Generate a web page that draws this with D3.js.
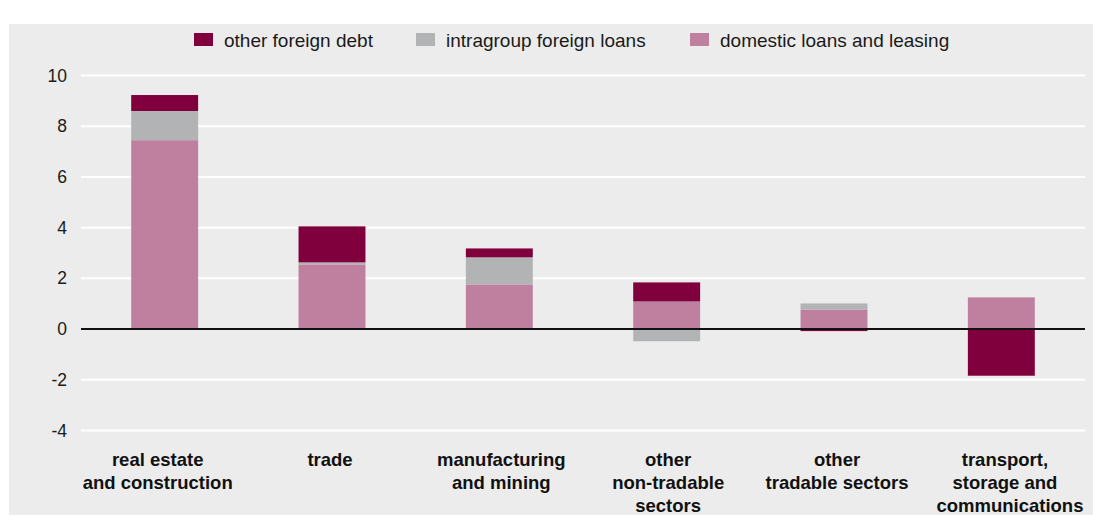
<!DOCTYPE html>
<html>
<head>
<meta charset="utf-8">
<script src="https://cdn.jsdelivr.net/npm/d3@7"></script>
<style>
  html, body { margin: 0; padding: 0; background: #ffffff; }
  svg { display: block; font-family: "Liberation Sans", Arial, sans-serif; }
</style>
</head>
<body>
<svg id="chart" width="1093" height="517"></svg>
<script>
// Sectors shown along the horizontal axis (line breaks as drawn)
const categories = [
  ["real estate", "and construction"],
  ["trade"],
  ["manufacturing", "and mining"],
  ["other", "non-tradable", "sectors"],
  ["other", "tradable sectors"],
  ["transport,", "storage and", "communications"]
];

// Contributions by funding source
const domesticLoans   = [7.45, 2.55, 1.76, 1.09, 0.77, 1.25];
const intragroupLoans = [1.15, 0.08, 1.07, -0.48, 0.24, 0.00];
const otherForeign    = [0.63, 1.42, 0.35, 0.75, -0.08, -1.84];

const seriesNames  = ["domestic loans and leasing", "intragroup foreign loans", "other foreign debt"];
const legendOrder  = ["other foreign debt", "intragroup foreign loans", "domestic loans and leasing"];
const yTicks = [-4, -2, 0, 2, 4, 6, 8, 10];

const colors = {
  "other foreign debt": "#7f003c",
  "intragroup foreign loans": "#b2b3b5",
  "domestic loans and leasing": "#be809e"
};

const width = 1093, height = 517;
const svg = d3.select("#chart");

// panel background
svg.append("rect")
  .attr("x", 9).attr("y", 24)
  .attr("width", width - 9).attr("height", 491)
  .attr("fill", "#ececec");

const plot = { left: 81, right: 1085, top: 75.5, bottom: 430.5 };

const keys = categories.map((c, i) => i);
const x = d3.scaleBand().domain(keys).range([plot.left, plot.right]).paddingInner(0.6).paddingOuter(0.3);
const y = d3.scaleLinear().domain([-4, 10]).range([plot.bottom, plot.top]);

// gridlines
svg.append("g")
  .selectAll("line")
  .data(yTicks.filter(t => t !== 0))
  .join("line")
  .attr("x1", plot.left).attr("x2", plot.right)
  .attr("y1", d => y(d)).attr("y2", d => y(d))
  .attr("stroke", "#ffffff").attr("stroke-width", 2);

// y tick labels (plain hyphen for negatives)
const yAxis = d3.axisLeft(y).tickValues(yTicks).tickSize(0).tickPadding(14)
  .tickFormat(d => String(d));
const yg = svg.append("g").attr("transform", `translate(${plot.left},0)`).call(yAxis);
yg.select(".domain").remove();
yg.selectAll("text")
  .attr("font-family", "'Liberation Sans', Arial, sans-serif")
  .attr("font-size", 17.5).attr("fill", "#1a1a1a");

// stacked bars
const rows = keys.map(i => ({
  "domestic loans and leasing": domesticLoans[i],
  "intragroup foreign loans": intragroupLoans[i],
  "other foreign debt": otherForeign[i]
}));
const stack = d3.stack().keys(seriesNames).offset(d3.stackOffsetDiverging);
const stacked = stack(rows);

svg.append("g")
  .selectAll("g")
  .data(stacked)
  .join("g")
  .attr("fill", d => colors[d.key])
  .selectAll("rect")
  .data(d => d.map((v, i) => ({ v, i })))
  .join("rect")
  .attr("x", d => x(d.i))
  .attr("width", x.bandwidth())
  .attr("y", d => y(Math.max(d.v[0], d.v[1])))
  .attr("height", d => Math.abs(y(d.v[0]) - y(d.v[1])));

// zero line
svg.append("line")
  .attr("x1", plot.left).attr("x2", plot.right)
  .attr("y1", y(0)).attr("y2", y(0))
  .attr("stroke", "#111111").attr("stroke-width", 2);

// category labels, nudged horizontally from the band centre
const labelShift = [-7, -2, 2, 1.5, 3, 3.6];
const lineDx = { "5-2": 5 };
const xl = svg.append("g");
categories.forEach((lines, i) => {
  const cx = x(i) + x.bandwidth() / 2 + labelShift[i];
  const t = xl.append("text")
    .attr("x", cx)
    .attr("y", 466)
    .attr("text-anchor", "middle")
    .attr("font-size", 18.5)
    .attr("font-weight", "bold")
    .attr("fill", "#111111");
  lines.forEach((ln, j) => {
    t.append("tspan")
      .attr("x", cx + (lineDx[`${i}-${j}`] || 0))
      .attr("dy", j === 0 ? 0 : 23)
      .text(ln);
  });
});

// legend
const legendX = [194, 416, 690];
const lg = svg.append("g");
legendOrder.forEach((name, i) => {
  lg.append("rect")
    .attr("x", legendX[i]).attr("y", 33)
    .attr("width", 19).attr("height", 13)
    .attr("fill", colors[name]);
  lg.append("text")
    .attr("x", legendX[i] + 30).attr("y", 46.5)
    .attr("font-size", 19).attr("fill", "#1a1a1a")
    .text(name);
});
</script>
</body>
</html>
